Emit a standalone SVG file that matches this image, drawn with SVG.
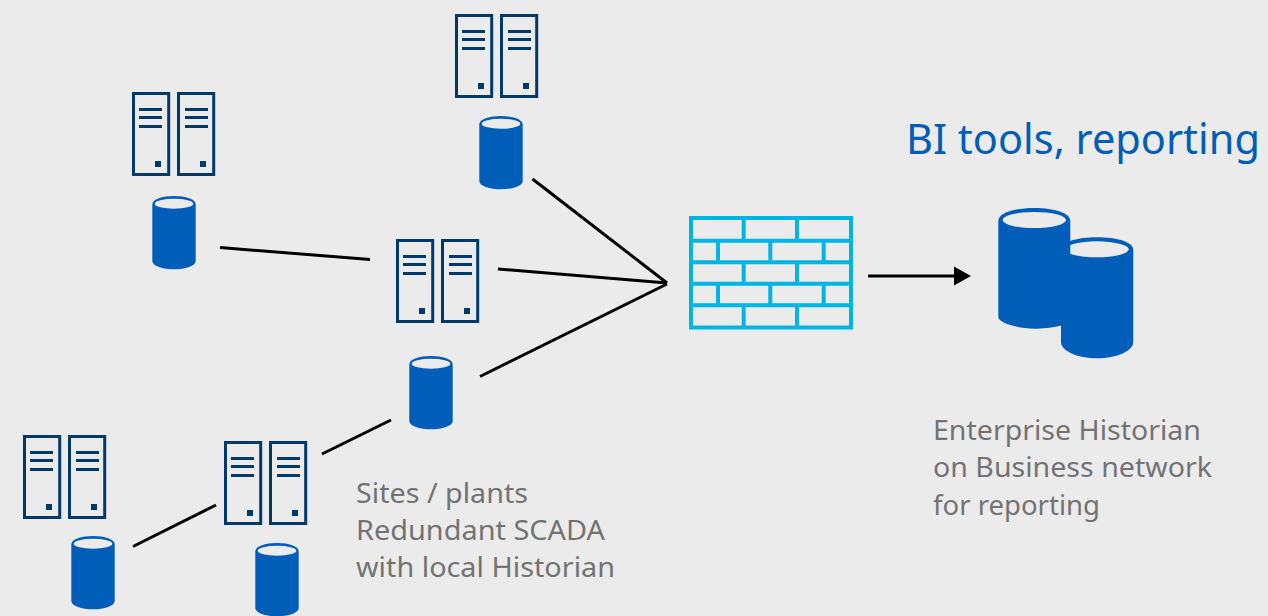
<svg xmlns="http://www.w3.org/2000/svg" xmlns:xlink="http://www.w3.org/1999/xlink" width="1268" height="616" viewBox="0 0 1268 616">
<style>
.bx{fill:none;stroke:#003a6b;stroke-width:3}
.bl{stroke:#003a6b;stroke-width:3.200;fill:none}
.sq{fill:#003a6b}
.cf{fill:#005eb8}
.ci{fill:#ebebeb}
.fw{fill:none;stroke:#00b5e2;stroke-width:4}
.cn{stroke:#000;stroke-width:3;fill:none}
.lbl{font-family:"Noto Sans","Open Sans",sans-serif;font-size:28px;fill:#737373}
.ttl{font-family:"Noto Sans","Open Sans",sans-serif;font-size:41.500px;fill:#005eb8}
</style>
<defs>
<g id="srv">
<rect class="bx" x="1.500" y="1.500" width="35.200" height="81"/>
<rect class="bx" x="46.500" y="1.500" width="35.200" height="81"/>
<path class="bl" d="M7 17.500H30M7 25.500H30M7 34.500H30M53 17.500H76M53 25.500H76M53 34.500H76"/>
<rect class="sq" x="23" y="69" width="6" height="6"/>
<rect class="sq" x="68" y="69" width="6" height="6"/>
</g>
<g id="cyl">
<path class="cf" d="M0 8.500C0 3 10 0 21.700 0S43.400 3 43.400 8.500V65C43.400 70 33 73.300 21.700 73.300S0 70 0 65Z"/>
<ellipse class="ci" cx="21.700" cy="7.700" rx="19.300" ry="5"/>
</g>
<marker id="ah" markerUnits="userSpaceOnUse" markerWidth="18" markerHeight="20" refX="0" refY="9.500" orient="auto" overflow="visible"><path d="M0 0L17 9.500L0 19Z" fill="#000"/></marker>
</defs>
<rect id="background" width="1268" height="616" fill="#ebebeb"/>
<g id="connectors">
<path class="cn" d="M220 247.500L370 259.500"/>
<path class="cn" d="M498 269L667 283"/>
<path class="cn" d="M532.500 179L667 283"/>
<path class="cn" d="M480 376.500L667 284"/>
<path class="cn" d="M322 454L391 420"/>
<path class="cn" d="M133 546.500L216 505"/>
<path class="cn" d="M868 276H954" marker-end="url(#ah)"/>
</g>
<g id="servers-top"><use xlink:href="#srv" href="#srv" x="455" y="14"/></g>
<g id="historian-top"><use xlink:href="#cyl" href="#cyl" x="479.300" y="116"/></g>
<g id="servers-left"><use xlink:href="#srv" href="#srv" x="132" y="92"/></g>
<g id="historian-left"><use xlink:href="#cyl" href="#cyl" x="152.300" y="196"/></g>
<g id="servers-mid"><use xlink:href="#srv" href="#srv" x="396" y="239"/></g>
<g id="historian-mid"><use xlink:href="#cyl" href="#cyl" x="409.300" y="356"/></g>
<g id="servers-bl"><use xlink:href="#srv" href="#srv" x="23" y="435"/></g>
<g id="historian-bl"><use xlink:href="#cyl" href="#cyl" x="71.300" y="536"/></g>
<g id="servers-bm"><use xlink:href="#srv" href="#srv" x="224" y="441"/></g>
<g id="historian-bm"><use xlink:href="#cyl" href="#cyl" x="255.300" y="543"/></g>
<g id="firewall">
<rect class="fw" x="691" y="218" width="160" height="109.500"/>
<path class="fw" d="M691 240.700H851M691 262.300H851M691 283.700H851M691 305.300H851M743.700 218V240.700M797 218V240.700M718 240.700V262.300M770.300 240.700V262.300M823.700 240.700V262.300M743.700 262.300V283.700M797 262.300V283.700M718 283.700V305.300M770.300 283.700V305.300M823.700 283.700V305.300M743.700 305.300V327M797 305.300V327"/>
</g>
<g id="enterprise-historian">
<path class="cf" d="M1061 250C1061 242 1077 237.300 1097 237.300S1133.300 242 1133.300 250V342C1133.300 351 1117 358.300 1097 358.300S1061 351 1061 342Z"/>
<ellipse class="ci" cx="1096.700" cy="249.300" rx="32" ry="8"/>
<path class="cf" d="M998.300 221C998.300 213 1014 208 1034.300 208S1070.300 213 1070.300 221V320C1070.300 325 1050 328.700 1034.300 328.700S998.300 323 998.300 317Z"/>
<ellipse class="ci" cx="1034.300" cy="220" rx="31.700" ry="8"/>
</g>
<text class="ttl" x="906" y="154" textLength="354" lengthAdjust="spacingAndGlyphs">BI tools, reporting</text>
<g class="lbl">
<text x="356" y="503" textLength="172" lengthAdjust="spacingAndGlyphs">Sites / plants</text>
<text x="356" y="540" textLength="249" lengthAdjust="spacingAndGlyphs">Redundant SCADA</text>
<text x="356" y="577" textLength="259" lengthAdjust="spacingAndGlyphs">with local Historian</text>
<text x="933" y="440" textLength="268" lengthAdjust="spacingAndGlyphs">Enterprise Historian</text>
<text x="933" y="477" textLength="279" lengthAdjust="spacingAndGlyphs">on Business network</text>
<text x="933" y="515" textLength="167" lengthAdjust="spacingAndGlyphs">for reporting</text>
</g>
</svg>
